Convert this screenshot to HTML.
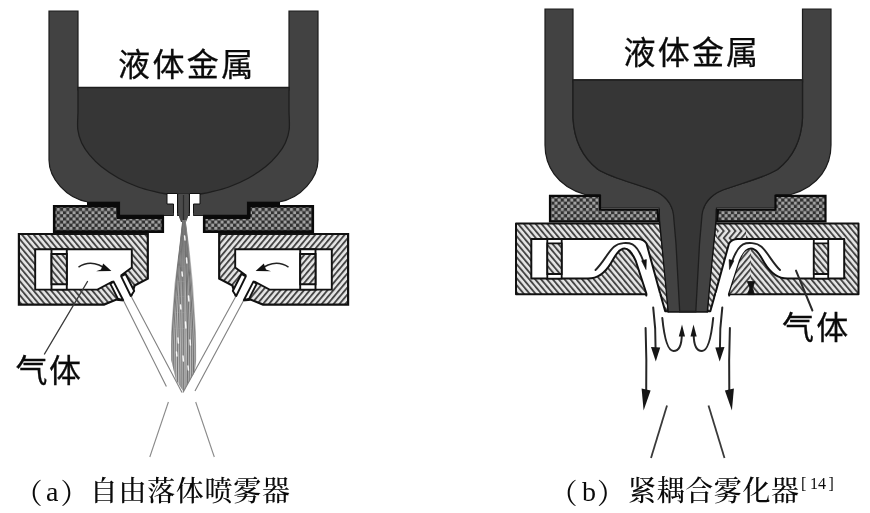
<!DOCTYPE html>
<html lang="zh"><head><meta charset="utf-8"><title>雾化器</title>
<style>
html,body{margin:0;padding:0;background:#fff;}
body{width:870px;height:513px;overflow:hidden;position:relative;}
svg{position:absolute;left:0;top:0;display:block;filter:blur(0.45px);}
.lab{position:absolute;font-family:"Liberation Sans","Noto Sans CJK SC",sans-serif;font-size:32px;line-height:32px;color:#0a0a0a;white-space:nowrap;-webkit-text-stroke:0.3px #0a0a0a;filter:blur(0.3px);}
.cap{position:absolute;font-family:"Liberation Serif","Noto Serif CJK SC",serif;font-size:28px;line-height:32px;color:#0a0a0a;white-space:nowrap;filter:blur(0.05px);font-weight:500;}
.cap .p{position:relative;top:2.6px;}
.cap .l{font-weight:400;}
.cap sup{font-weight:400;font-size:16px;line-height:0;vertical-align:baseline;position:relative;top:-12px;letter-spacing:0;}
</style></head><body>
<svg width="870" height="513" viewBox="0 0 870 513">
<defs>
<pattern id="hL" width="4.5" height="4.5" patternUnits="userSpaceOnUse" patternTransform="rotate(-40)">
<rect width="4.5" height="4.5" fill="#e6e6e6"/><rect x="0" y="0" width="1.9" height="4.5" fill="#464646"/></pattern>
<pattern id="hR" width="4.5" height="4.5" patternUnits="userSpaceOnUse" patternTransform="rotate(40)">
<rect width="4.5" height="4.5" fill="#e6e6e6"/><rect x="0" y="0" width="1.9" height="4.5" fill="#464646"/></pattern>
<pattern id="xh" width="6.3" height="6.3" patternUnits="userSpaceOnUse">
<rect width="6.3" height="6.3" fill="#303030"/>
<rect x="0.1" y="0.1" width="3.05" height="3.05" rx="0.5" fill="#a2a2a2"/>
<rect x="3.25" y="3.25" width="3.05" height="3.05" rx="0.5" fill="#a2a2a2"/>
</pattern>
</defs>
<path d="M49,11 L78,11 L78,90 L289,90 L289,11 L318,11 L318,160 C318,178 301,198.5 279,202 L247.5,202 L247.5,215.5 L119.5,215.5 L119.5,202 L88,202 C66,198.5 49,178 49,160 Z" fill="#424242" stroke="#1c1c1c" stroke-width="1.2"/>
<path d="M78,87.5 L78,112 C78.0,114.9 77.2,124.3 77.8,129.5 C78.4,134.7 79.8,138.8 81.7,143.0 C83.7,147.2 86.2,150.9 89.5,154.8 C92.8,158.7 96.3,162.6 101.2,166.5 C106.1,170.4 112.5,174.8 118.7,178.2 C124.9,181.6 132.0,184.7 138.2,187.0 C144.4,189.3 150.8,190.7 155.8,191.9 C160.8,193.1 166.0,193.8 168.0,194.2 L199.0,194.2 C201.0,193.8 206.2,193.1 211.2,191.9 C216.2,190.7 222.6,189.3 228.8,187.0 C235.0,184.7 242.1,181.6 248.3,178.2 C254.5,174.8 260.9,170.4 265.8,166.5 C270.7,162.6 274.2,158.7 277.5,154.8 C280.8,150.9 283.4,147.2 285.3,143.0 C287.2,138.8 288.6,134.7 289.2,129.5 C289.8,124.3 289.0,114.9 289.0,112.0 L289,87.5 Z" fill="#363636" stroke="#1e1e1e" stroke-width="1.3"/>
<path d="M167,193.5 L177.5,193.5 L177.5,215.5 L173.5,215.5 L173.5,204 L167,204 Z" fill="#fff" stroke="#111" stroke-width="1"/>
<path d="M200,193.5 L189.5,193.5 L189.5,215.5 L193.5,215.5 L193.5,204 L200,204 Z" fill="#fff" stroke="#111" stroke-width="1"/>
<path d="M173.9,213 L177.1,213 L177.1,217 L173.9,217 Z M189.9,213 L193.1,213 L193.1,217 L189.9,217 Z" fill="#fff"/>
<path d="M178.3,194 L188.7,194 L188,217 L186,222 L181,222 L179,217 Z" fill="#4a4a4a"/>
<path d="M183.5,195 L183.5,221" stroke="#2a2a2a" stroke-width="1.2"/>
<path d="M54.2,206.2 L118.0,206.2 L118.0,217.8 L162.8,217.8 L162.8,231.6 L54.2,231.6 Z" fill="url(#xh)" stroke="#0a0a0a" stroke-width="2.6"/>
<path d="M312.8,206.2 L249.0,206.2 L249.0,217.8 L204.2,217.8 L204.2,231.6 L312.8,231.6 Z" fill="url(#xh)" stroke="#0a0a0a" stroke-width="2.6"/>
<path d="M87,203.7 L119,203.7 M280,203.7 L248,203.7" stroke="#0a0a0a" stroke-width="3.4" fill="none"/>
<path d="M118.2,202 L118.2,217 M248.8,202 L248.8,217" stroke="#0a0a0a" stroke-width="3.4" fill="none"/>
<path d="M119,216 L164,216 M248,216 L203,216" stroke="#0a0a0a" stroke-width="2.4" fill="none"/>
<path d="M18.9,234.0 L147.8,234.0 L147.8,278.6 L134.6,285.6 L131.0,296.5 L123.7,300.4 L116.4,299.6 L104.0,304.6 L18.9,304.6 Z" fill="url(#hL)" stroke="#111" stroke-width="2.2" stroke-linejoin="miter"/>
<path d="M35.2,249.2 L131.8,249.2 L131.8,267.5 L121.0,275.6 L113.5,281.0 L97.5,289.6 L35.2,289.6 Z" fill="#fff" stroke="#111" stroke-width="1.9"/>
<path d="M51.5,249.2 L66.8,249.2 L66.8,289.6 L51.5,289.6 Z" fill="#fff" stroke="#111" stroke-width="1.9"/>
<path d="M51.5,254.0 L66.8,254.0 L66.8,284.3 L51.5,284.3 Z" fill="url(#hL)" stroke="#111" stroke-width="1.9"/>
<path d="M111.8,279.2 L119.6,273.8 L132.4,298.6 L124.5,303.2 Z" fill="#fff"/>
<path d="M121.2,276.4 L125.6,274.0 L134.2,291.0 L130.8,296.0 Z" fill="#fff" stroke="#111" stroke-width="1.9" stroke-linejoin="round"/>
<path d="M113.6,281.6 L110.4,283.8 L117.8,298.6 L123.2,300.2 Z" fill="#fff" stroke="#111" stroke-width="1.9" stroke-linejoin="round"/>
<path d="M348.1,234.0 L219.2,234.0 L219.2,278.6 L232.4,285.6 L236.0,296.5 L243.3,300.4 L250.6,299.6 L263.0,304.6 L348.1,304.6 Z" fill="url(#hR)" stroke="#111" stroke-width="2.2" stroke-linejoin="miter"/>
<path d="M331.8,249.2 L235.2,249.2 L235.2,267.5 L246.0,275.6 L253.5,281.0 L269.5,289.6 L331.8,289.6 Z" fill="#fff" stroke="#111" stroke-width="1.9"/>
<path d="M315.5,249.2 L300.2,249.2 L300.2,289.6 L315.5,289.6 Z" fill="#fff" stroke="#111" stroke-width="1.9"/>
<path d="M315.5,254.0 L300.2,254.0 L300.2,284.3 L315.5,284.3 Z" fill="url(#hR)" stroke="#111" stroke-width="1.9"/>
<path d="M255.2,279.2 L247.4,273.8 L234.6,298.6 L242.5,303.2 Z" fill="#fff"/>
<path d="M245.8,276.4 L241.4,274.0 L232.8,291.0 L236.2,296.0 Z" fill="#fff" stroke="#111" stroke-width="1.9" stroke-linejoin="round"/>
<path d="M253.4,281.6 L256.6,283.8 L249.2,298.6 L243.8,300.2 Z" fill="#fff" stroke="#111" stroke-width="1.9" stroke-linejoin="round"/>
<path d="M78.5,267.2 C84,263.5 91,262 99,265 L103,267" fill="none" stroke="#222" stroke-width="1.5"/>
<path d="M111.4,271 L96,271.2 L101,269.6 L103.2,263.6 Z" fill="#111"/>
<path d="M288.5,267.2 C283,263.5 276,262 268,265 L264,267" fill="none" stroke="#222" stroke-width="1.5"/>
<path d="M255.6,271 L271,271.2 L266,269.6 L263.8,263.6 Z" fill="#111"/>
<clipPath id="spc"><path d="M182.3,220 L185.6,220 L189.3,247 L193,284 L196,332 L196.2,360 L194.6,372 L183.4,391.5 L176,380 L171.2,360 L171,332 L174.5,284 L179.3,247 Z"/></clipPath>
<g clip-path="url(#spc)">
<rect x="168" y="218" width="32" height="176" fill="#bcbcbc"/>
<path d="M182.5,220 C177.7,262 173.4,300 171.8,345 L171.9,394" stroke="#777" stroke-width="1.1" fill="none"/>
<path d="M182.8,220 C178.6,262 174.8,300 173.4,345 L173.3,394" stroke="#707070" stroke-width="0.9" fill="none"/>
<path d="M183.0,220 C179.6,262 176.5,300 175.3,345 L174.9,394" stroke="#707070" stroke-width="0.9" fill="none"/>
<path d="M183.3,220 C180.8,262 178.5,300 177.7,345 L177.3,394" stroke="#6a6a6a" stroke-width="0.9" fill="none"/>
<path d="M183.5,220 C181.8,262 180.2,300 179.6,345 L180.1,394" stroke="#707070" stroke-width="0.9" fill="none"/>
<path d="M183.8,220 C182.9,262 182.1,300 181.8,345 L181.9,394" stroke="#707070" stroke-width="0.9" fill="none"/>
<path d="M184.0,220 C183.8,262 183.6,300 183.5,345 L183.5,394" stroke="#777" stroke-width="0.9" fill="none"/>
<path d="M184.2,220 C184.6,262 185.0,300 185.1,345 L185.1,394" stroke="#858585" stroke-width="0.9" fill="none"/>
<path d="M184.5,220 C185.9,262 187.1,300 187.6,345 L187.2,394" stroke="#707070" stroke-width="1.3" fill="none"/>
<path d="M184.7,220 C186.9,262 188.8,300 189.5,345 L189.1,394" stroke="#777" stroke-width="1.1" fill="none"/>
<path d="M185.0,220 C188.0,262 190.6,300 191.6,345 L191.7,394" stroke="#707070" stroke-width="0.9" fill="none"/>
<path d="M185.2,220 C188.9,262 192.1,300 193.3,345 L193.6,394" stroke="#707070" stroke-width="1.1" fill="none"/>
<path d="M185.5,220 C189.8,262 193.7,300 195.2,345 L195.0,394" stroke="#858585" stroke-width="1.1" fill="none"/>
<path d="M184.6,236 l0.4,4" stroke="#fff" stroke-width="1.5" stroke-linecap="round" opacity="0.92"/>
<path d="M186.5,258 l0.4,5" stroke="#fff" stroke-width="1.5" stroke-linecap="round" opacity="0.92"/>
<path d="M182,272 l0.4,4" stroke="#fff" stroke-width="1.5" stroke-linecap="round" opacity="0.92"/>
<path d="M188.5,296 l0.4,5" stroke="#fff" stroke-width="1.5" stroke-linecap="round" opacity="0.92"/>
<path d="M180.5,305 l0.4,4" stroke="#fff" stroke-width="1.5" stroke-linecap="round" opacity="0.92"/>
<path d="M185.5,322 l0.4,6" stroke="#fff" stroke-width="1.5" stroke-linecap="round" opacity="0.92"/>
<path d="M190,340 l0.4,5" stroke="#fff" stroke-width="1.5" stroke-linecap="round" opacity="0.92"/>
<path d="M178,338 l0.4,5" stroke="#fff" stroke-width="1.5" stroke-linecap="round" opacity="0.92"/>
<path d="M183,356 l0.4,5" stroke="#fff" stroke-width="1.5" stroke-linecap="round" opacity="0.92"/>
<path d="M188,366 l0.4,4" stroke="#fff" stroke-width="1.5" stroke-linecap="round" opacity="0.92"/>
<path d="M176.5,352 l0.4,4" stroke="#fff" stroke-width="1.5" stroke-linecap="round" opacity="0.92"/>
</g>
<path d="M131.5,297 L182,392.5" stroke="#808080" stroke-width="1.1" fill="none"/>
<path d="M123.7,301 L166.4,386.5" stroke="#808080" stroke-width="1.1" fill="none"/>
<path d="M235.5,297 L183,392.5" stroke="#808080" stroke-width="1.1" fill="none"/>
<path d="M243.3,301 L195,391" stroke="#808080" stroke-width="1.1" fill="none"/>
<path d="M168.4,402 L149.8,457" stroke="#8a8a8a" stroke-width="1.1" fill="none"/>
<path d="M195.7,402 L214.3,457" stroke="#8a8a8a" stroke-width="1.1" fill="none"/>
<path d="M87.5,281.5 L44.5,354" stroke="#3a3a3a" stroke-width="1.4" stroke-linecap="round"/>
<path d="M545,9 L573,9 L573,82 L802.5,82 L802.5,9 L831,9 L831,145 C831,165 820,186 791,194.5 L776,194.5 L776,208 L716.5,208 L716,220 L707.3,311.8 L668.2,311.8 L659.5,220 L659,208 L600,208 L600,194.5 L585,194.5 C556,186 545,165 545,145 Z" fill="#424242" stroke="#1c1c1c" stroke-width="1.2"/>
<path d="M573,80 L802.5,80 L802.5,118 C801.5,138 793.5,157 777.5,169.5 C763.5,178 743.5,182.5 722.8,190 C710.5,195 703.5,203 702.0,215 L699.5,244 L695.8,311.5 L679.7,311.5 L676,244 L673.5,215 C672,203 665,195 652.7,190 C632,182.5 612,178 598,169.5 C582,157 574,138 573,118 Z" fill="#363636" stroke="#1e1e1e" stroke-width="1.3"/>
<path d="M550.0,195.8 L600.0,195.8 L600.0,209.6 L657.5,209.6 L658.5,221.4 L550.0,221.4 Z" fill="url(#xh)" stroke="#0a0a0a" stroke-width="2.2"/>
<path d="M825.5,195.8 L775.5,195.8 L775.5,209.6 L718.0,209.6 L717.0,221.4 L825.5,221.4 Z" fill="url(#xh)" stroke="#0a0a0a" stroke-width="2.2"/>
<path d="M516.0,223.4 L660.0,223.4 L667.0,285.0 L668.4,311.3 L665.2,311.3 L660.4,294.3 L646.6,294.3 L516.0,294.3 Z" fill="url(#hL)" stroke="#111" stroke-width="2" stroke-linejoin="round"/>
<path d="M531.3,239 L638.0,239 Q643.5,239 646.5,243.5 L660.7,295.5 L646.2,295.5 L646.6,294.3 L635.8,261 C631.0,250 627.5,248.6 624.6,248.6 C619.0,248.6 615.0,256 611.0,263 C605.0,273 598.0,278.6 588.0,278.6 L531.3,278.6 Z" fill="#fff" stroke="#111" stroke-width="2" stroke-linejoin="round"/>
<path d="M647.9,292.9 L659.1,292.9 L660.2,297.5 L646.8,297.5 Z" fill="#fff"/>
<path d="M547.3,239.0 L561.7,239.0 L561.7,278.6 L547.3,278.6 Z" fill="#fff" stroke="#111" stroke-width="1.8"/>
<path d="M547.3,243.4 L561.7,243.4 L561.7,274.0 L547.3,274.0 Z" fill="url(#hL)" stroke="#111" stroke-width="1.8"/>
<path d="M595.5,270 C603.0,263 608.0,252 614.0,246.8 C619.0,242.3 628.0,242.3 632.5,244.3 C638.0,247 641.0,255 643.3,261" fill="none" stroke="#222" stroke-width="1.9" stroke-linecap="round"/>
<path d="M641.6,260.8 L646.4,259.6 L646.0,269.5 Z" fill="#111" stroke="#111" stroke-width="0.6" stroke-linejoin="round"/>
<path d="M858.5,223.4 L715.5,223.4 L708.5,285.0 L707.1,311.3 L710.3,311.3 L715.1,294.3 L728.9,294.3 L858.5,294.3 Z" fill="url(#hL)" stroke="#111" stroke-width="2" stroke-linejoin="round"/>
<path d="M844.2,239 L737.5,239 Q732.0,239 729.0,243.5 L714.8,295.5 L729.3,295.5 L728.9,294.3 L739.7,261 C744.5,250 748.0,248.6 750.9,248.6 C756.5,248.6 760.5,256 764.5,263 C770.5,273 777.5,278.6 787.5,278.6 L844.2,278.6 Z" fill="#fff" stroke="#111" stroke-width="2" stroke-linejoin="round"/>
<path d="M727.6,292.9 L716.4,292.9 L715.3,297.5 L728.7,297.5 Z" fill="#fff"/>
<path d="M828.2,239.0 L813.8,239.0 L813.8,278.6 L828.2,278.6 Z" fill="#fff" stroke="#111" stroke-width="1.8"/>
<path d="M828.2,243.4 L813.8,243.4 L813.8,274.0 L828.2,274.0 Z" fill="url(#hL)" stroke="#111" stroke-width="1.8"/>
<path d="M780.0,270 C772.5,263 767.5,252 761.5,246.8 C756.5,242.3 747.5,242.3 743.0,244.3 C737.5,247 734.5,255 732.2,261" fill="none" stroke="#222" stroke-width="1.9" stroke-linecap="round"/>
<path d="M733.9,260.8 L729.1,259.6 L729.5,269.5 Z" fill="#111" stroke="#111" stroke-width="0.6" stroke-linejoin="round"/>
<path d="M729.5,293.4 L739.6,262 C743,253 746,249.6 750.9,249.6 L750.9,293.4 Z" fill="url(#hR)"/>
<path d="M717.5,231 L746,231 L746,238.1 L717.2,238.1 Z" fill="url(#hR)"/>
<path d="M659.2,209 L716.3,209 L716,220 L707.3,311.8 L668.2,311.8 L659.5,220 Z" fill="#424242"/>
<path d="M659.2,209 L659.5,220 L668.2,311.8 L707.3,311.8 L716,220 L716.3,209" fill="none" stroke="#111" stroke-width="1.3"/>
<path d="M573,80 L802.5,80 L802.5,118 C801.5,138 793.5,157 777.5,169.5 C763.5,178 743.5,182.5 722.8,190 C710.5,195 703.5,203 702.0,215 L699.5,244 L695.8,311.5 L679.7,311.5 L676,244 L673.5,215 C672,203 665,195 652.7,190 C632,182.5 612,178 598,169.5 C582,157 574,138 573,118 Z" fill="#363636" stroke="#1e1e1e" stroke-width="1.3"/>
<path d="M747.3,281.5 L754.8,281.5 L752.6,288 L754.4,294.6 L747.8,294.6 L749.8,288 Z" fill="#111" stroke="#111" stroke-width="0.8" stroke-linejoin="round"/>
<path d="M653.2,307.5 C655.5,325 655.8,338 655.6,350" fill="none" stroke="#262626" stroke-width="2" stroke-linecap="round"/>
<path d="M655.8,361.5 L651.0,347 L660.2,347.5 Z" fill="#161616"/>
<path d="M645.6,328 C646.4,350 646.6,370 646.2,391" fill="none" stroke="#262626" stroke-width="2" stroke-linecap="round"/>
<path d="M643.6,410.5 L641.6,388.5 L650.6,390.5 Z" fill="#161616"/>
<path d="M662.3,318 C664.0,335 667.0,351 673.5,351 C679.5,351 681.8,345 681.8,334" fill="none" stroke="#262626" stroke-width="2" stroke-linecap="round"/>
<path d="M682.0,324.5 L678.8,336.5 L685.0,336.5 Z" fill="#161616"/>
<path d="M667.0,405.5 L651.0,458" stroke="#3a3a3a" stroke-width="1.8" fill="none"/>
<path d="M722.3,307.5 C720.0,325 719.7,338 719.9,350" fill="none" stroke="#262626" stroke-width="2" stroke-linecap="round"/>
<path d="M719.7,361.5 L724.5,347 L715.3,347.5 Z" fill="#161616"/>
<path d="M729.9,328 C729.1,350 728.9,370 729.3,391" fill="none" stroke="#262626" stroke-width="2" stroke-linecap="round"/>
<path d="M731.9,410.5 L733.9,388.5 L724.9,390.5 Z" fill="#161616"/>
<path d="M713.2,318 C711.5,335 708.5,351 702.0,351 C696.0,351 693.7,345 693.7,334" fill="none" stroke="#262626" stroke-width="2" stroke-linecap="round"/>
<path d="M693.5,324.5 L696.7,336.5 L690.5,336.5 Z" fill="#161616"/>
<path d="M708.5,405.5 L724.5,458" stroke="#3a3a3a" stroke-width="1.8" fill="none"/>
<path d="M796,270.6 L812.4,310.5" stroke="#2a2a2a" stroke-width="2" stroke-linecap="round"/>
</svg>
<div class="lab" id="t1" style="left:118px;top:48.5px;letter-spacing:2.4px;">液体金属</div>
<div class="lab" id="t2" style="left:623.5px;top:37px;letter-spacing:2.2px;">液体金属</div>
<div class="lab" id="t3" style="left:15.5px;top:354.5px;letter-spacing:1.5px;">气体</div>
<div class="lab" id="t4" style="left:782px;top:312px;letter-spacing:2.2px;">气体</div>
<div class="cap" id="c1" style="left:14.5px;top:476px;"><span class="p">（</span><span class="l" style="margin:0 2px 0 3.5px">a</span><span class="p">）</span><span class="g" style="display:inline-block;width:1.3px"></span><span style="letter-spacing:0.7px">自由落体喷雾器</span></div>
<div class="cap" id="c2" style="left:549.5px;top:476px;"><span class="p">（</span><span class="l" style="margin:0 1px 0 4.5px">b</span><span class="p">）</span><span class="g" style="display:inline-block;width:3px"></span><span style="letter-spacing:0.6px">紧耦合雾化器</span><sup><span style="margin:0 3.6px 0 1.4px">[</span>14<span style="margin-left:2.6px">]</span></sup></div>
</body></html>
